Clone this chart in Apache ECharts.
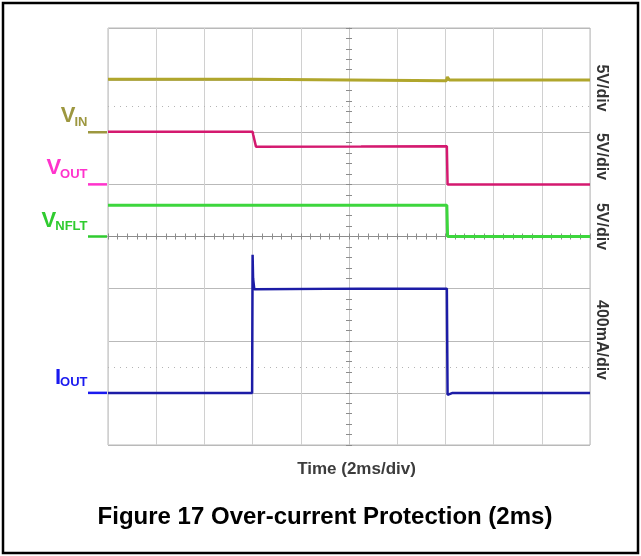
<!DOCTYPE html>
<html>
<head>
<meta charset="utf-8">
<script src="https://cdn.jsdelivr.net/npm/echarts@6/dist/echarts.min.js"></script>
<style>
  html, body { margin: 0; padding: 0; background: #fff; }
  #scope { width: 641px; height: 556px; }
</style>
</head>
<body>
<div id="scope"></div>
<script>
// Time base: 2 ms/div, 10 divisions, t = 0 ms at the centre graticule line.
const TIME_MIN = -10, TIME_MAX = 10, TIME_DIV = 2;
const DIV_MIN = -4, DIV_MAX = 4;

// Channel names, subscripts and vertical scales
const chMain   = ['V', 'V', 'V', 'I'];
const chSub    = ['IN', 'OUT', 'NFLT', 'OUT'];
const chScale  = [5, 5, 5, 400];            // units per division
const chGround = [2, 1, 0, -3];             // ground marker position, divisions from centre
const chScaleText = ['5V/div', '5V/div', '5V/div', '400mA/div'];
const chTrace  = ['#b0a62c', '#d4196f', '#3dd63d', '#1c1ca6'];
const chLabel  = ['#9d973f', '#ff33cc', '#2fcb2f', '#1a1aef'];
const chWidth  = [3, 2.5, 3, 2.5];

// VIN (V)
const vinTime  = [-10, -4.0, -3.96, 4.04, 4.08, 4.16, 10];
const vinVolt  = [5.08, 5.08, 4.95, 4.95, 5.3, 5.02, 5.02];
// VOUT (V)
const voutTime = [-10, -4.0, -3.98, -3.86, 0.5, 4.06, 4.09, 10];
const voutVolt = [5.05, 5.05, 4.8, 3.62, 3.63, 3.66, 0, 0];
// VNFLT (V)
const nfltTime = [-10, 4.06, 4.09, 10];
const nfltVolt = [3.0, 3.0, 0, 0];
// IOUT (mA)
const ioutTime = [-10, -4.02, -4.0, -3.98, -3.93, 0.5, 4.06, 4.09, 4.3, 10];
const ioutAmp  = [0, 0, 1060, 880, 795, 800, 800, -15, 0, 0];

const traces = [
  [vinTime, vinVolt],
  [voutTime, voutVolt],
  [nfltTime, nfltVolt],
  [ioutTime, ioutAmp]
];

const chart = echarts.init(document.getElementById('scope'), null, { renderer: 'canvas' });

// convert each channel's readings to screen divisions
function toDivs(i) {
  const [t, v] = traces[i];
  return t.map((tt, k) => [tt, chGround[i] + v[k] / chScale[i]]);
}

const tickStyle = { color: '#8c8c8c', width: 1 };

const series = traces.map((_, i) => ({
  type: 'line',
  xAxisIndex: 0,
  yAxisIndex: 0,
  data: toDivs(i),
  showSymbol: false,
  symbol: 'none',
  silent: true,
  animation: false,
  lineStyle: { color: chTrace[i], width: chWidth[i] },
  z: 5 + i
}));

// dotted cursor lines
series[2].markLine = {
  silent: true,
  symbol: 'none',
  label: { show: false },
  animation: false,
  lineStyle: { color: '#b4b4b4', type: [1, 5], width: 1 },
  data: [{ yAxis: 2.5 }, { yAxis: -2.5 }]
};

function centreAxis(extra) {
  return Object.assign({
    type: 'value',
    axisLabel: { show: false },
    axisTick: { show: true, length: 3, lineStyle: tickStyle },
    minorTick: { show: true, splitNumber: 5, length: 3, lineStyle: tickStyle },
    splitLine: { show: false }
  }, extra);
}

chart.setOption({
  backgroundColor: '#ffffff',
  animation: false,
  grid: {
    left: 108, top: 28, width: 482, height: 417,
    show: true, borderColor: '#b8b8b8', borderWidth: 1, backgroundColor: 'transparent'
  },
  xAxis: [
    centreAxis({
      min: TIME_MIN, max: TIME_MAX, interval: TIME_DIV, position: 'bottom',
      axisLine: { show: true, onZero: true, onZeroAxisIndex: 0, lineStyle: { color: '#8c8c8c', width: 1 } },
      splitLine: { show: true, lineStyle: { color: '#d0d0d0', width: 1 } }
    }),
    centreAxis({
      min: TIME_MIN, max: TIME_MAX, interval: TIME_DIV, position: 'top',
      axisLine: { show: true, onZero: true, onZeroAxisIndex: 0, lineStyle: { color: '#8c8c8c', width: 1 } }
    })
  ],
  yAxis: [
    centreAxis({
      min: DIV_MIN, max: DIV_MAX, interval: 1, position: 'left',
      axisLine: { show: true, onZero: true, onZeroAxisIndex: 0, lineStyle: { color: '#c4c4c4', width: 1 } },
      splitLine: { show: true, lineStyle: { color: '#b9b9b9', width: 1 } }
    }),
    centreAxis({
      min: DIV_MIN, max: DIV_MAX, interval: 1, position: 'right',
      axisLine: { show: true, onZero: true, onZeroAxisIndex: 0, lineStyle: { color: '#c4c4c4', width: 1 } }
    })
  ],
  series: series
});

// channel labels are placed at each channel's ground marker
const measureCtx = document.createElement('canvas').getContext('2d');
function textWidth(str, font) {
  measureCtx.font = font;
  return measureCtx.measureText(str).width;
}

function buildGraphics() {
  const FONT = '"Liberation Sans", Arial, Helvetica, sans-serif';
  const g = [];
  const left = chart.convertToPixel({ xAxisIndex: 0 }, TIME_MIN);

  chMain.forEach((m, i) => {
    const gy = chart.convertToPixel({ yAxisIndex: 0 }, chGround[i]);
    const subFont = 'bold 13px ' + FONT;
    const subRight = left - 20.5;
    const subW = textWidth(chSub[i], subFont);
    g.push({
      type: 'line', silent: true,
      shape: { x1: left - 20, y1: gy, x2: left - 1, y2: gy },
      style: { stroke: chLabel[i], lineWidth: 2.5 }
    });
    g.push({
      type: 'text', silent: true, x: subRight, y: gy - 10,
      style: { text: chSub[i], font: subFont, fill: chLabel[i], align: 'right', verticalAlign: 'middle' }
    });
    g.push({
      type: 'text', silent: true, x: subRight - subW + 1, y: gy - (m === 'I' ? 15 : 16),
      style: { text: m, font: 'bold 22px ' + FONT, fill: chLabel[i], align: 'right', verticalAlign: 'middle' }
    });
  });

  const scaleY = [88, 156.5, 226.5, 340];
  chScaleText.forEach((s, i) => {
    g.push({
      type: 'text', silent: true, x: 601.5, y: scaleY[i], rotation: -Math.PI / 2,
      style: { text: s, font: 'bold 16px ' + FONT, fill: '#333333', align: 'center', verticalAlign: 'middle' }
    });
  });

  g.push({
    type: 'text', silent: true, x: 356.5, y: 469,
    style: { text: 'Time (2ms/div)', font: 'bold 17px ' + FONT, fill: '#3c3c3c', align: 'center', verticalAlign: 'middle' }
  });
  g.push({
    type: 'text', silent: true, x: 325, y: 517,
    style: { text: 'Figure 17 Over-current Protection (2ms)', font: 'bold 24px ' + FONT, fill: '#000000', align: 'center', verticalAlign: 'middle' }
  });
  g.push({
    type: 'rect', silent: true,
    shape: { x: 3, y: 3, width: 635, height: 550 },
    style: { fill: null, stroke: '#000000', lineWidth: 2.5 }
  });
  return g;
}

chart.setOption({ graphic: buildGraphics() });
</script>
</body>
</html>
